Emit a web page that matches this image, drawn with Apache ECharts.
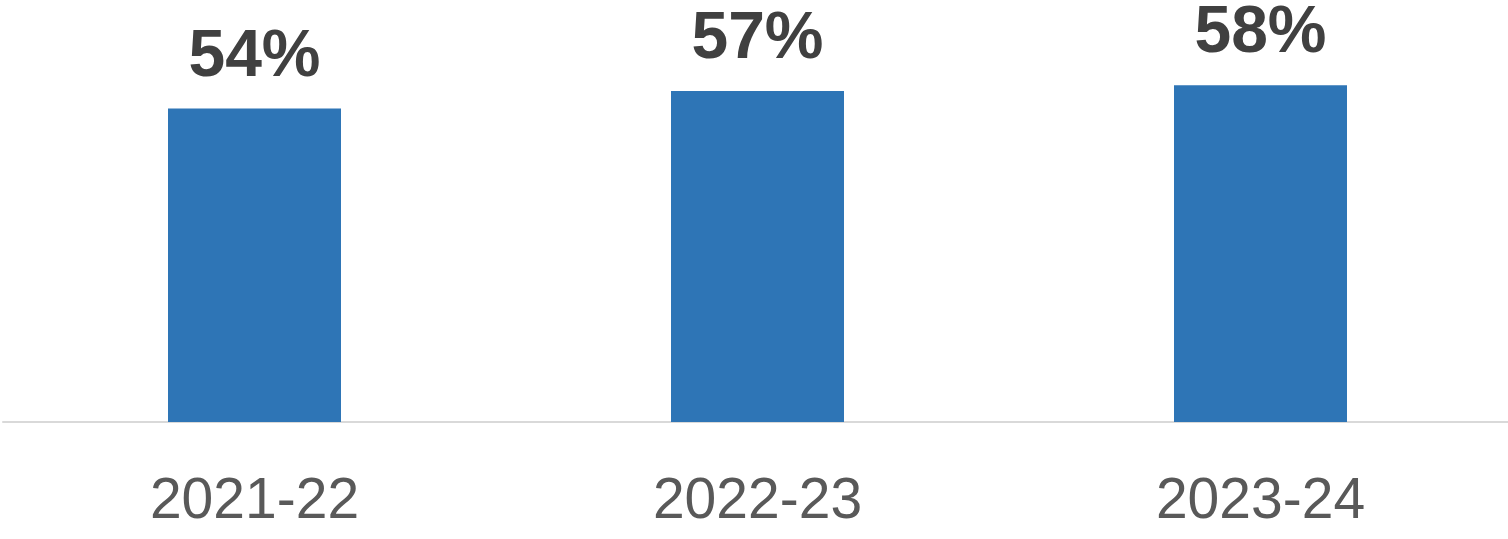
<!DOCTYPE html>
<html>
<head>
<meta charset="utf-8">
<script src="https://cdn.jsdelivr.net/npm/echarts@6/dist/echarts.min.js"></script>
<style>
  html, body { margin: 0; padding: 0; background: #fff; }
  #chart { width: 1508px; height: 539px; }
</style>
</head>
<body>
<div id="chart"></div>
<script>
// 年度数据
const years = ['2021-22', '2022-23', '2023-24'];
const shares = [54, 57, 58];

const chart = echarts.init(document.getElementById('chart'));
chart.setOption({
  animation: false,
  grid: { left: 3, right: -4, top: 4, bottom: 117, outerBoundsMode: 'none' },
  xAxis: {
    type: 'category',
    data: years,
    axisLine: { lineStyle: { color: '#d9d9d9', width: 2 } },
    axisTick: { show: false },
    axisLabel: {
      color: '#595959',
      fontFamily: 'Liberation Sans',
      fontSize: 57,
      margin: 52
    }
  },
  yAxis: {
    type: 'value',
    min: 0,
    max: 72,
    show: false,
    splitLine: { show: false }
  },
  series: [{
    type: 'bar',
    data: shares,
    barWidth: 173,
    itemStyle: { color: '#2e75b6' },
    label: {
      show: true,
      position: 'top',
      distance: 18,
      formatter: '{c}%',
      color: '#404040',
      fontFamily: 'Liberation Sans',
      fontWeight: 'bold',
      fontSize: 66
    }
  }]
});
</script>
</body>
</html>
